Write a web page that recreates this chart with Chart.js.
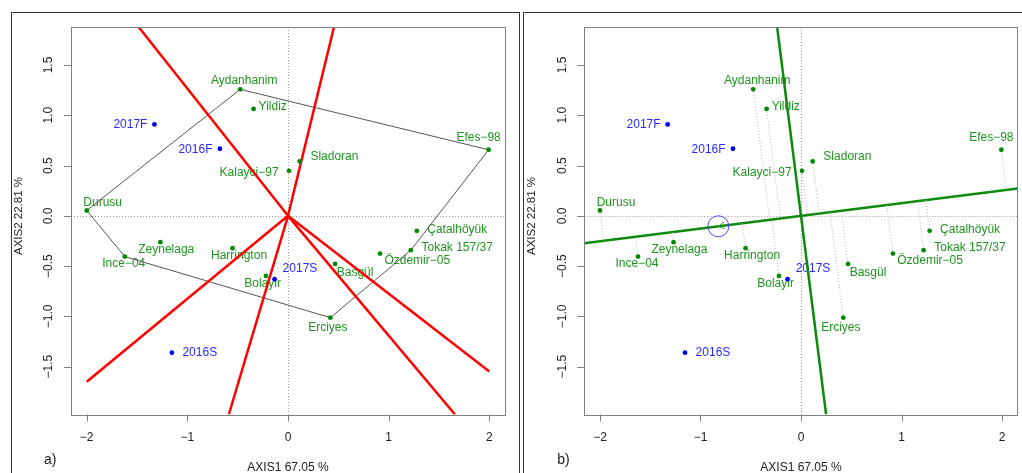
<!DOCTYPE html>
<html>
<head>
<meta charset="utf-8">
<script src="https://cdn.jsdelivr.net/npm/chart.js@4/dist/chart.umd.min.js"></script>
<style>
  body { margin: 0; background: #fff; width: 1022px; height: 473px; overflow: hidden; position: relative; }
  canvas { position: absolute; top: 0; }
  #chartA { left: 0; }
  #chartB { left: 519px; }
  .frame { position: absolute; top: 12px; height: 480px; border: 1.5px solid #333; box-sizing: border-box; }
</style>
</head>
<body>
<div class="frame" style="left:11px;width:509px"></div>
<div class="frame" style="left:523px;width:500px"></div>
<canvas id="chartA" width="519" height="473"></canvas>
<canvas id="chartB" width="503" height="473"></canvas>
<script>
// genotypes (green) and environments (blue), coordinates on AXIS1 / AXIS2
const genotypes = ['Aydanhanim', 'Yildiz', 'Efes−98', 'Sladoran', 'Kalayci−97', 'Durusu', 'Çatalhöyük', 'Zeynelaga',
                   'Harrington', 'Ince−04', 'Tokak 157/37', 'Özdemir−05', 'Basgül', 'Bolayir', 'Erciyes'];
const genoX = [-0.475, -0.342, 1.993, 0.116, 0.010, -2.000, 1.280, -1.268, -0.551, -1.622, 1.220, 0.915, 0.468, -0.219, 0.421];
const genoY = [1.258, 1.063, 0.657, 0.541, 0.448, 0.053, -0.149, -0.262, -0.322, -0.405, -0.342, -0.375, -0.478, -0.598, -1.013];

const environments = ['2017F', '2016F', '2017S', '2016S'];
const envX = [-1.327, -0.677, -0.133, -1.154];
const envY = [0.909, 0.667, -0.631, -1.361];

// polygon vertices (which-won-where view)
const hullOrder = ['Aydanhanim', 'Efes−98', 'Tokak 157/37', 'Erciyes', 'Ince−04', 'Durusu'];

const xTicks = [-2, -1, 0, 1, 2];
const yTicks = [-1.5, -1.0, -0.5, 0.0, 0.5, 1.0, 1.5];
const xTitle = 'AXIS1 67.05 %';
const yTitle = 'AXIS2 22.81 %';
const xLim = [-2.156, 2.156];
const yLim = [-1.976, 1.878];
const rayLimitX = 2;

// label placement: [align, dx, dy] in px from the point
const labelPos = {
    'Aydanhanim': ['center', 4, -9], 'Yildiz': ['left', 5, -2.6], 'Efes−98': ['center', -10, -12.3],
    'Sladoran': ['left', 10.7, -4.4], 'Kalayci−97': ['right', -10.4, 2.3], 'Durusu': ['center', 16, -8],
    'Çatalhöyük': ['left', 10.4, -1], 'Zeynelaga': ['center', 5.9, 7.7], 'Harrington': ['center', 6.5, 7.7],
    'Ince−04': ['center', -1, 7.3], 'Tokak 157/37': ['left', 10.7, -3], 'Özdemir−05': ['left', 4.3, 7.3],
    'Basgül': ['left', 1.6, 9.3], 'Bolayir': ['center', -3.4, 8], 'Erciyes': ['center', -2.5, 9.6],
    '2017F': ['right', -7, 0.3], '2016F': ['right', -7.4, 0.7], '2017S': ['left', 8, -10.6], '2016S': ['left', 10.6, 0]
};

const GREEN_PT = '#008B00';
const GREEN_TXT = '#1f951f';
const BLUE = '#0000FF';
const FONT = '"Liberation Sans", Arial, sans-serif';

const genoPts = genoX.map((x, i) => ({ x: x, y: genoY[i] }));
const envPts = envX.map((x, i) => ({ x: x, y: envY[i] }));

function segment(p, q, color, width, dash) {
    return {
        data: [p, q], showLine: true, borderColor: color, borderWidth: width,
        borderDash: dash || [], pointRadius: 0, pointHoverRadius: 0, order: 2
    };
}

// rays from the origin perpendicular to each polygon side
function sectorLines() {
    const hull = hullOrder.map(n => genoPts[genotypes.indexOf(n)]);
    const out = [];
    for (let i = 0; i < hull.length; i++) {
        const p = hull[i], q = hull[(i + 1) % hull.length];
        const dx = q.x - p.x, dy = q.y - p.y;
        const t = -(p.x * dx + p.y * dy) / (dx * dx + dy * dy);
        const fx = p.x + t * dx, fy = p.y + t * dy;
        let s = Infinity;
        if (fx !== 0) s = Math.min(s, rayLimitX / Math.abs(fx));
        if (fy > 0) s = Math.min(s, yLim[1] / fy);
        if (fy < 0) s = Math.min(s, yLim[0] / fy);
        out.push(segment({ x: 0, y: 0 }, { x: fx * s, y: fy * s }, '#FF0000', 2.5));
    }
    return out;
}

function hullLine() {
    const pts = hullOrder.map(n => genoPts[genotypes.indexOf(n)]);
    pts.push(pts[0]);
    return { data: pts, showLine: true, borderColor: '#555', borderWidth: 1, pointRadius: 0, pointHoverRadius: 0, order: 3 };
}

// average environment coordinate view
const aec = {
    x: envX.reduce((a, b) => a + b, 0) / envX.length,
    y: envY.reduce((a, b) => a + b, 0) / envY.length
};

function aecLines() {
    const slope = aec.y / aec.x;
    const len = Math.hypot(aec.x, aec.y);
    const ux = aec.x / len, uy = aec.y / len;
    const out = [];
    genoPts.forEach(p => {
        const d = p.x * ux + p.y * uy;
        out.push(segment(p, { x: d * ux, y: d * uy }, '#b5b5b5', 1, [1, 2]));
    });
    out.push(segment({ x: xLim[0], y: slope * xLim[0] }, { x: xLim[1], y: slope * xLim[1] }, '#0e8a0e', 2.5));
    out.push(segment({ x: -slope * yLim[1], y: yLim[1] }, { x: -slope * yLim[0], y: yLim[0] }, '#0e8a0e', 2.5));
    return out;
}

function pointSets() {
    return [
        { data: genoPts, backgroundColor: GREEN_PT, borderColor: GREEN_PT, pointRadius: 2.4, borderWidth: 0, order: 0 },
        { data: envPts, backgroundColor: BLUE, borderColor: BLUE, pointRadius: 2.4, borderWidth: 0, order: 0 }
    ];
}

function decor(tag, showAec) {
    return {
        id: 'decor' + tag,
        beforeDatasetsDraw(chart) {
            const ctx = chart.ctx, a = chart.chartArea;
            const xs = chart.scales.x, ys = chart.scales.y;
            ctx.save();
            ctx.strokeStyle = '#9a9a9a';
            ctx.lineWidth = 1;
            ctx.setLineDash([1, 2]);
            const x0 = Math.round(xs.getPixelForValue(0)) + 0.5;
            const y0 = Math.round(ys.getPixelForValue(0)) + 0.5;
            ctx.beginPath();
            ctx.moveTo(x0, a.top); ctx.lineTo(x0, a.bottom);
            ctx.moveTo(a.left, y0); ctx.lineTo(a.right, y0);
            ctx.stroke();
            ctx.setLineDash([]);

            ctx.font = '12px ' + FONT;
            ctx.textBaseline = 'middle';
            const drawLabel = (name, p, color) => {
                const lp = labelPos[name];
                ctx.fillStyle = color;
                ctx.textAlign = lp[0];
                ctx.fillText(name, xs.getPixelForValue(p.x) + lp[1], ys.getPixelForValue(p.y) + lp[2]);
            };
            genotypes.forEach((n, i) => drawLabel(n, genoPts[i], GREEN_TXT));
            environments.forEach((n, i) => drawLabel(n, envPts[i], '#2a2aff'));
            ctx.restore();
        },
        afterDatasetsDraw(chart) {
            const ctx = chart.ctx, a = chart.chartArea;
            const xs = chart.scales.x, ys = chart.scales.y;
            ctx.save();
            if (showAec) {
                const cx = xs.getPixelForValue(aec.x), cy = ys.getPixelForValue(aec.y);
                ctx.strokeStyle = '#4a4aff';
                ctx.lineWidth = 1;
                ctx.beginPath();
                ctx.arc(cx, cy, 10.5, 0, Math.PI * 2);
                ctx.stroke();
                // arrow head pointing away from the origin
                const ang = Math.atan2(-(cy - ys.getPixelForValue(0)), -(cx - xs.getPixelForValue(0)));
                ctx.strokeStyle = '#3aa03a';
                ctx.beginPath();
                ctx.moveTo(cx + 7 * Math.cos(ang + 0.5), cy + 7 * Math.sin(ang + 0.5));
                ctx.lineTo(cx, cy);
                ctx.lineTo(cx + 7 * Math.cos(ang - 0.5), cy + 7 * Math.sin(ang - 0.5));
                ctx.stroke();
            }
            // plot box
            ctx.strokeStyle = '#808080';
            ctx.lineWidth = 1;
            ctx.strokeRect(Math.round(a.left) + 0.5, Math.round(a.top) + 0.5,
                Math.round(a.right - a.left), Math.round(a.bottom - a.top));
            // ticks
            ctx.fillStyle = '#222';
            ctx.font = '12px ' + FONT;
            ctx.beginPath();
            xTicks.forEach(v => {
                const px = Math.round(xs.getPixelForValue(v)) + 0.5;
                ctx.moveTo(px, a.bottom); ctx.lineTo(px, a.bottom + 7);
            });
            yTicks.forEach(v => {
                const py = Math.round(ys.getPixelForValue(v)) + 0.5;
                ctx.moveTo(a.left, py); ctx.lineTo(a.left - 7, py);
            });
            ctx.stroke();
            ctx.textAlign = 'center';
            ctx.textBaseline = 'middle';
            xTicks.forEach(v => {
                ctx.fillText(v < 0 ? '−' + Math.abs(v) : String(v), xs.getPixelForValue(v), a.bottom + 23);
            });
            yTicks.forEach(v => {
                ctx.save();
                ctx.translate(a.left - 22, ys.getPixelForValue(v));
                ctx.rotate(-Math.PI / 2);
                ctx.fillText((v < 0 ? '−' : '') + Math.abs(v).toFixed(1), 0, 0);
                ctx.restore();
            });
            ctx.fillText(xTitle, (a.left + a.right) / 2, 467.5);
            ctx.save();
            ctx.translate(a.left - 52, 216);
            ctx.rotate(-Math.PI / 2);
            ctx.font = '11.5px ' + FONT;
            ctx.fillText(yTitle, 0, 0);
            ctx.restore();
            ctx.font = '14px ' + FONT;
            ctx.textAlign = 'left';
            ctx.fillText(tag, a.left - 27, 460);
            ctx.restore();
        }
    };
}

function makeChart(id, datasets, padding, tag, showAec) {
    return new Chart(document.getElementById(id), {
        type: 'scatter',
        data: { datasets: datasets },
        options: {
            responsive: false,
            animation: false,
            devicePixelRatio: 1,
            layout: { padding: padding },
            plugins: { legend: { display: false }, tooltip: { enabled: false } },
            scales: {
                x: { type: 'linear', display: false, min: xLim[0], max: xLim[1] },
                y: { type: 'linear', display: false, min: yLim[0], max: yLim[1] }
            }
        },
        plugins: [decor(tag, showAec)]
    });
}

makeChart('chartA', pointSets().concat([hullLine()], sectorLines()),
    { left: 71, right: 14, top: 27, bottom: 58.5 }, 'a)', false);
makeChart('chartB', pointSets().concat(aecLines()),
    { left: 65.3, right: 4.3, top: 27, bottom: 58.5 }, 'b)', true);
</script>
</body>
</html>
